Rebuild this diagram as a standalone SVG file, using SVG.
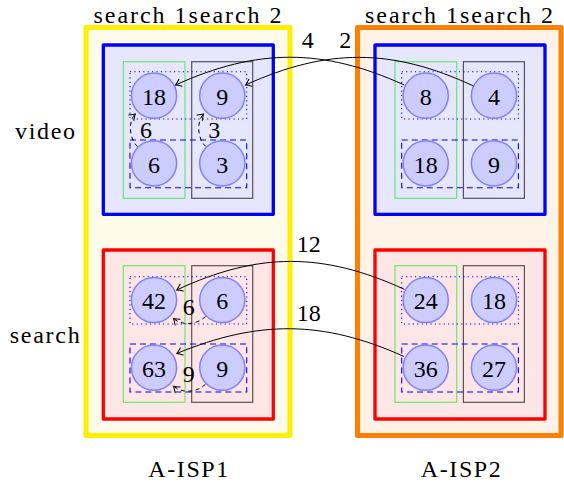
<svg xmlns="http://www.w3.org/2000/svg" xmlns:xlink="http://www.w3.org/1999/xlink" width="564" height="482" viewBox="0 0 564 482">
<defs>
<path id="ah" d="M-5.5,-3.8 Q-2,-1 0,0 Q-2,1 -5.5,3.8" fill="none" stroke="#000" stroke-width="1" stroke-linecap="round"/>
</defs>

<g id="isp1">
<rect x="86" y="27.5" width="204" height="408" fill="#fffbea" stroke="#fff000" stroke-width="5" stroke-linejoin="round"/>
<text x="187.5" y="22.5" text-anchor="middle" font-size="24" font-family="Liberation Serif" textLength="188" lengthAdjust="spacing">search 1search 2</text>
<text x="188.3" y="476.5" text-anchor="middle" font-size="24" font-family="Liberation Serif" textLength="80" lengthAdjust="spacing">A-ISP1</text>
</g>
<g id="isp2">
<rect x="357.5" y="27.5" width="203.5" height="408" fill="#fff2e6" stroke="#ff8000" stroke-width="5" stroke-linejoin="round"/>
<text x="459" y="22.5" text-anchor="middle" font-size="24" font-family="Liberation Serif" textLength="188" lengthAdjust="spacing">search 1search 2</text>
<text x="460.8" y="476.5" text-anchor="middle" font-size="24" font-family="Liberation Serif" textLength="80" lengthAdjust="spacing">A-ISP2</text>
</g>
<g id="labels" font-size="24" font-family="Liberation Serif" text-anchor="middle">
<text x="45" y="139.3" textLength="60" lengthAdjust="spacing">video</text>
<text x="44.7" y="343.3" textLength="70" lengthAdjust="spacing">search</text>
</g>

<g id="isp1-video">
<rect x="103.3" y="45" width="170" height="169.3" fill="#e6e6ff" stroke="#0000ff" stroke-width="3.3" stroke-linejoin="round"/>
<g fill="none">
<rect x="123.3" y="61.7" width="61.7" height="136.6" stroke="#5ee85e" stroke-width="1.1"/>
<rect x="191.7" y="61.7" width="61" height="136.6" stroke="#555" stroke-width="1.2"/>
<rect x="130" y="71.7" width="116.7" height="47.3" stroke="#0000ff" stroke-width="1.1" stroke-dasharray="1.2 3.2"/>
<rect x="130" y="140" width="116.7" height="47.7" stroke="#0000ff" stroke-width="1.1" stroke-dasharray="6 4"/>
</g>
</g>
<g id="isp1-search">
<rect x="103.3" y="250" width="170" height="169" fill="#ffe6e6" stroke="#ff0000" stroke-width="3.3" stroke-linejoin="round"/>
<g fill="none">
<rect x="123.3" y="265.7" width="61.7" height="136.6" stroke="#5ee85e" stroke-width="1.1"/>
<rect x="191.7" y="265.7" width="61" height="136.6" stroke="#555" stroke-width="1.2"/>
<rect x="130" y="276.7" width="116.7" height="47.3" stroke="#0000ff" stroke-width="1.1" stroke-dasharray="1.2 3.2"/>
<rect x="130" y="344" width="116.7" height="48" stroke="#0000ff" stroke-width="1.1" stroke-dasharray="6 4"/>
</g>
</g>
<g id="isp2-video">
<rect x="375" y="45" width="170" height="169.3" fill="#e6e6ff" stroke="#0000ff" stroke-width="3.3" stroke-linejoin="round"/>
<g fill="none">
<rect x="395" y="61.7" width="61.7" height="136.6" stroke="#5ee85e" stroke-width="1.1"/>
<rect x="463.4" y="61.7" width="61" height="136.6" stroke="#555" stroke-width="1.2"/>
<rect x="401.7" y="71.7" width="116.7" height="47.3" stroke="#0000ff" stroke-width="1.1" stroke-dasharray="1.2 3.2"/>
<rect x="401.7" y="140" width="116.7" height="47.7" stroke="#0000ff" stroke-width="1.1" stroke-dasharray="6 4"/>
</g>
</g>
<g id="isp2-search">
<rect x="375" y="250" width="170" height="169" fill="#ffe6e6" stroke="#ff0000" stroke-width="3.3" stroke-linejoin="round"/>
<g fill="none">
<rect x="395" y="265.7" width="61.7" height="136.6" stroke="#5ee85e" stroke-width="1.1"/>
<rect x="463.4" y="265.7" width="61" height="136.6" stroke="#555" stroke-width="1.2"/>
<rect x="401.7" y="276.7" width="116.7" height="47.3" stroke="#0000ff" stroke-width="1.1" stroke-dasharray="1.2 3.2"/>
<rect x="401.7" y="344" width="116.7" height="48" stroke="#0000ff" stroke-width="1.1" stroke-dasharray="6 4"/>
</g>
</g>

<g id="nodes" fill="#ccccff" stroke="#8080ff" stroke-width="1.5" font-size="24" font-family="Liberation Serif" text-anchor="middle">
<g id="n-1-v-1-1"><circle cx="154" cy="95.7" r="22.6"/><text x="154" y="105" fill="#000" stroke="none">18</text></g>
<g id="n-1-v-1-2"><circle cx="222.3" cy="95.7" r="22.6"/><text x="222.3" y="105" fill="#000" stroke="none">9</text></g>
<g id="n-1-v-2-1"><circle cx="154" cy="163.3" r="22.6"/><text x="154" y="172.6" fill="#000" stroke="none">6</text></g>
<g id="n-1-v-2-2"><circle cx="222.3" cy="163.3" r="22.6"/><text x="222.3" y="172.6" fill="#000" stroke="none">3</text></g>
<g id="n-1-s-1-1"><circle cx="154" cy="300" r="22.6"/><text x="154" y="309.3" fill="#000" stroke="none">42</text></g>
<g id="n-1-s-1-2"><circle cx="222.3" cy="300" r="22.6"/><text x="222.3" y="309.3" fill="#000" stroke="none">6</text></g>
<g id="n-1-s-2-1"><circle cx="154" cy="367.7" r="22.6"/><text x="154" y="377" fill="#000" stroke="none">63</text></g>
<g id="n-1-s-2-2"><circle cx="222.3" cy="367.7" r="22.6"/><text x="222.3" y="377" fill="#000" stroke="none">9</text></g>
<g id="n-2-v-1-1"><circle cx="425.7" cy="95.7" r="22.6"/><text x="425.7" y="105" fill="#000" stroke="none">8</text></g>
<g id="n-2-v-1-2"><circle cx="494" cy="95.7" r="22.6"/><text x="494" y="105" fill="#000" stroke="none">4</text></g>
<g id="n-2-v-2-1"><circle cx="425.7" cy="163.3" r="22.6"/><text x="425.7" y="172.6" fill="#000" stroke="none">18</text></g>
<g id="n-2-v-2-2"><circle cx="494" cy="163.3" r="22.6"/><text x="494" y="172.6" fill="#000" stroke="none">9</text></g>
<g id="n-2-s-1-1"><circle cx="425.7" cy="300" r="22.6"/><text x="425.7" y="309.3" fill="#000" stroke="none">24</text></g>
<g id="n-2-s-1-2"><circle cx="494" cy="300" r="22.6"/><text x="494" y="309.3" fill="#000" stroke="none">18</text></g>
<g id="n-2-s-2-1"><circle cx="425.7" cy="367.7" r="22.6"/><text x="425.7" y="377" fill="#000" stroke="none">36</text></g>
<g id="n-2-s-2-2"><circle cx="494" cy="367.7" r="22.6"/><text x="494" y="377" fill="#000" stroke="none">27</text></g>
</g>

<g id="connectors" fill="none" stroke="#000" stroke-width="1">
<path d="M404.3,85 C323,48 257,48 175.5,85"/>
<path d="M473.5,86 C392,48 327,48 245.5,85"/>
<path d="M404.3,289.3 C323,252 258,252 176.7,290"/>
<path d="M404,356.5 C323,320 258,320 176.7,353.5"/>
<g stroke-dasharray="4 3.5">
<path d="M137.5,146.5 C129,139 128,121 135.3,114"/>
<path d="M205.8,146.5 C197.3,139 196.3,121 203.6,114"/>
<path d="M205.5,316.5 C197,325 182,326 173.5,318.5"/>
<path d="M205.5,384.2 C197,392.7 182,393.7 173.5,386.2"/>
</g>
<use href="#ah" xlink:href="#ah" transform="translate(175.5,85) rotate(155.6)"/>
<use href="#ah" xlink:href="#ah" transform="translate(245.5,85) rotate(155.6)"/>
<use href="#ah" xlink:href="#ah" transform="translate(176.7,290) rotate(154.9)"/>
<use href="#ah" xlink:href="#ah" transform="translate(176.7,353.5) rotate(157.6)"/>
<use href="#ah" xlink:href="#ah" transform="translate(135.3,114) rotate(-43.8)"/>
<use href="#ah" xlink:href="#ah" transform="translate(203.6,114) rotate(-43.8)"/>
<use href="#ah" xlink:href="#ah" transform="translate(173.5,318.5) rotate(-138.6)"/>
<use href="#ah" xlink:href="#ah" transform="translate(173.5,386.2) rotate(-138.6)"/>
<g fill="#000" stroke="none" font-size="24" font-family="Liberation Serif" text-anchor="middle">
<text x="307.8" y="48.3">4</text>
<text x="345.3" y="48.3">2</text>
<text x="308.8" y="251.7">12</text>
<text x="308.8" y="321">18</text>
<text x="146" y="138.3">6</text>
<text x="214.2" y="138.3">3</text>
<text x="188.8" y="315">6</text>
<text x="188.8" y="381.7">9</text>
</g>
</g>
</svg>
